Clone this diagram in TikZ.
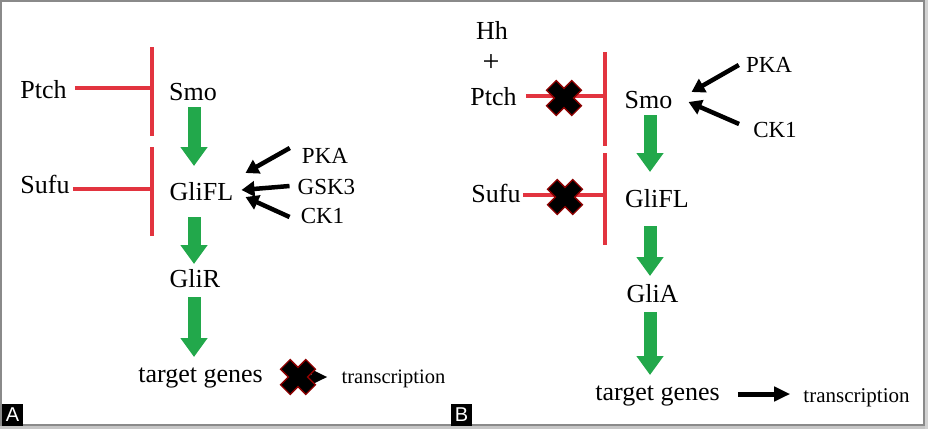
\documentclass[tikz,border=0pt]{standalone}
\usepackage{fontspec}
\setmainfont{Liberation Serif}
\newfontfamily\labfont{Liberation Sans}
\usetikzlibrary{arrows.meta,calc}
\definecolor{inhred}{HTML}{E2343F}
\definecolor{actgreen}{HTML}{22A84B}
\definecolor{framegray}{HTML}{8A8A8A}
\begin{document}
\begin{tikzpicture}[x=1pt,y=-1pt,
  big/.style={inner sep=0pt,anchor=base,font=\fontsize{26}{30}\selectfont},
  mid/.style={inner sep=0pt,anchor=base,font=\fontsize{23}{27}\selectfont},
  sml/.style={inner sep=0pt,anchor=base,font=\fontsize{20.5}{24}\selectfont},
  redl/.style={draw=inhred,line width=3.5pt},
  garrow/.style={draw=actgreen,line width=13pt,-{Triangle[length=19pt,width=26pt]},actgreen},
  barrow/.style={draw=black,line width=4.5pt,-{Triangle[length=13pt,width=15pt]}},
  tarrow/.style={draw=black,line width=5pt,-{Triangle[length=16pt,width=14pt]}},
  panellab/.style={fill=black,text=white,inner sep=0pt,minimum width=21pt,minimum height=22pt,font=\labfont\fontsize{20}{20}\selectfont},
  xmark/.pic={
    \begin{scope}[rotate=45]
      \fill[red!55!black] (-18.5,-7.5) rectangle (18.5,7.5);
      \fill[red!55!black] (-7.5,-18.5) rectangle (7.5,18.5);
      \fill[black] (-17,-6) rectangle (17,6);
      \fill[black] (-6,-17) rectangle (6,17);
    \end{scope}
  }
]
\useasboundingbox (0,0) rectangle (928,429);
% frame
\fill[gray!45] (0,425) rectangle (928,429);
\fill[gray!35] (925,0) rectangle (928,429);
\draw[framegray,line width=2pt] (1,1) rectangle (924,425);
\node[panellab] (labA) at (12.5,414.5) {A};
\node[panellab] (labB) at (461.5,414.5) {B};

% ---------------- Panel A ----------------
\node[big] (ptchA) at (43.5,98) {Ptch};
\node[big] (smoA) at (193,100) {Smo};
\node[big] (sufuA) at (45,193) {Sufu};
\node[big] (gliflA) at (201.5,200) {GliFL};
\node[big] (glirA) at (195,287) {GliR};
\node[big] (targetA) at (200.5,382) {target genes};
\node[sml] (transA) at (393.5,383) {transcription};
\node[mid] (pkaA) at (325,163) {PKA};
\node[mid] (gskA) at (326.5,194) {GSK3};
\node[mid] (ckA) at (322.5,223) {CK1};

\coordinate (barA1t) at (152,47);
\coordinate (barA1b) at (152,136);
\coordinate (barA2t) at (152,147);
\coordinate (barA2b) at (152,236);
\coordinate (tA1) at (152,88);
\coordinate (tA2) at (152,189);
\draw[redl] (barA1t) -- (barA1b);
\draw[redl] (barA2t) -- (barA2b);
\draw[redl] ($(ptchA.base east)+(8,-10)$) -- (tA1);
\draw[redl] ($(sufuA.base east)+(3,-4)$) -- (tA2);

\draw[garrow] ($(smoA.base)+(1,7)$) -- ($(gliflA.base)+(-7.5,-34)$);
\draw[garrow] ($(gliflA.base)+(-7.5,17)$) -- ($(glirA.base)+(-1,-23)$);
\draw[garrow] ($(glirA.base)+(-1,10)$) -- ($(targetA.base)+(-6.5,-25)$);

\draw[barrow] ($(pkaA.base west)+(-12,-15)$) -- ($(gliflA.base east)+(12,-27)$);
\draw[barrow] ($(gskA.base west)+(-8,-8)$) -- ($(gliflA.base east)+(8,-10)$);
\draw[barrow] ($(ckA.base west)+(-11,-6)$) -- ($(gliflA.base east)+(12,-3)$);

\draw[tarrow] ($(targetA.base east)+(25,-5)$) -- ($(transA.base west)+(-14,-6)$);
\pic at (298,377) {xmark};

% ---------------- Panel B ----------------
\node[big] (hhB) at (492,39) {Hh};
\node[inner sep=0pt,font=\fontsize{30}{32}\selectfont] (plusB) at (491,63) {+};
\node[big] (ptchB) at (493.5,105) {Ptch};
\node[big] (smoB) at (648.5,108) {Smo};
\node[mid] (pkaB) at (769,72) {PKA};
\node[mid] (ckB) at (775,137) {CK1};
\node[big] (sufuB) at (496,202) {Sufu};
\node[big] (gliflB) at (657,207) {GliFL};
\node[big] (gliaB) at (652.5,302) {GliA};
\node[big] (targetB) at (657.5,400) {target genes};
\node[sml,font=\fontsize{21}{24}\selectfont] (transB) at (856.5,402) {transcription};

\coordinate (barB1t) at (605,52);
\coordinate (barB1b) at (605,146);
\coordinate (barB2t) at (605,153);
\coordinate (barB2b) at (605,245);
\coordinate (tB1) at (605,96);
\coordinate (tB2) at (605,195);
\draw[redl] (barB1t) -- (barB1b);
\draw[redl] (barB2t) -- (barB2b);
\draw[redl] ($(ptchB.base east)+(9,-9)$) -- (tB1);
\draw[redl] ($(sufuB.base east)+(2,-7)$) -- (tB2);
\pic at (564,98) {xmark};
\pic at (565,197) {xmark};

\draw[barrow] ($(pkaB.base west)+(-7,-7)$) -- ($(smoB.base east)+(19,-16)$);
\draw[barrow] ($(ckB.base west)+(-14,-13)$) -- ($(smoB.base east)+(16,-6)$);

\draw[garrow] ($(smoB.base)+(1.5,7)$) -- ($(gliflB.base)+(-7,-35)$);
\draw[garrow] ($(gliflB.base)+(-7,19)$) -- ($(gliaB.base)+(-2.5,-26)$);
\draw[garrow] ($(gliaB.base)+(-2.5,10)$) -- ($(targetB.base)+(-7.5,-25)$);

\draw[tarrow] ($(targetB.base east)+(18,-6)$) -- ($(transB.base west)+(-13,-8)$);
\end{tikzpicture}
\end{document}
